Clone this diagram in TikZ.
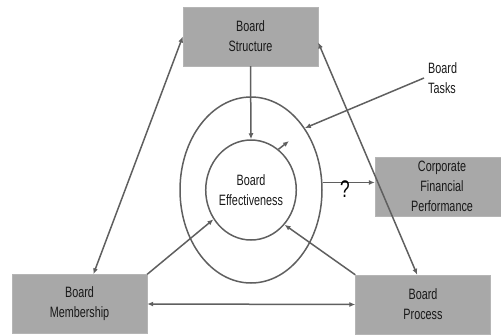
\documentclass[tikz,border=0pt]{standalone}
\usepackage{fontspec}
\setmainfont{Liberation Sans}[FakeStretch=0.72]
\usetikzlibrary{shapes.geometric,positioning,arrows.meta}

\definecolor{boxgray}{RGB}{168,168,168}
\definecolor{linegray}{RGB}{95,95,95}
\definecolor{textgray}{RGB}{25,25,25}

\begin{document}
\begin{tikzpicture}[x=1pt,y=-1pt]
\tikzset{
	boardbox/.style={draw=boxgray!85!white, fill=boxgray, minimum width=135pt, minimum height=59pt,
		align=center, inner sep=0pt, text=textgray, font=\fontsize{15}{20}\selectfont},
	ring/.style={ellipse, draw=linegray, line width=1.5pt, inner sep=0pt},
	link/.style={draw=linegray, line width=1.5pt, -{Latex[length=6pt,width=5pt]}},
	twoway/.style={link, {Latex[length=6pt,width=5pt]}-{Latex[length=6pt,width=5pt]}},
}

\useasboundingbox (0,0) rectangle (501,335);

% boxes
\node[boardbox] (structure) at (250.5,36.5) {Board\\Structure};
\node[boardbox] (membership) at (79.5,304) {Board\\Membership};
\node[boardbox] (process) at (423,304.5) {Board\\Process};
\node[boardbox, minimum width=134pt] (perf) at (442,186.5) {Corporate\\Financial\\Performance};

% rings
\node[ring, minimum width=142pt, minimum height=186pt] (outer) at (251,190) {};
\node[ring, minimum width=76pt, minimum height=100pt, align=center, text=textgray,
	font=\fontsize{15}{20}\selectfont] (inner) at (251,190) {Board\\Effectiveness};

% tasks label
\node[anchor=west, align=left, text=textgray, inner sep=0pt,
	font=\fontsize{15}{20}\selectfont] (tasks) at (428,78) {Board\\Tasks};
\coordinate (taskarrow) at (289,141);

% links
\draw[link] (structure.south) -- (inner.north);
\draw[link] ([xshift=-4pt]tasks.west) -- (outer.49);
\draw[link] (inner.56) -- (taskarrow);
\draw[link] (outer.6) -- (outer.6 -| perf.west);
\node[text=black, font=\fontsize{24}{24}\selectfont] (q) at (345,189) {?};
\draw[twoway] (structure.west) -- (membership.65);
\draw[twoway] (structure.-5) -- (process.101);
\draw[twoway] (membership.east) -- (process.west);
\draw[link] (membership.north east) -- (inner.218);
\draw[link] (process.north west) -- (inner.314);

\end{tikzpicture}
\end{document}
